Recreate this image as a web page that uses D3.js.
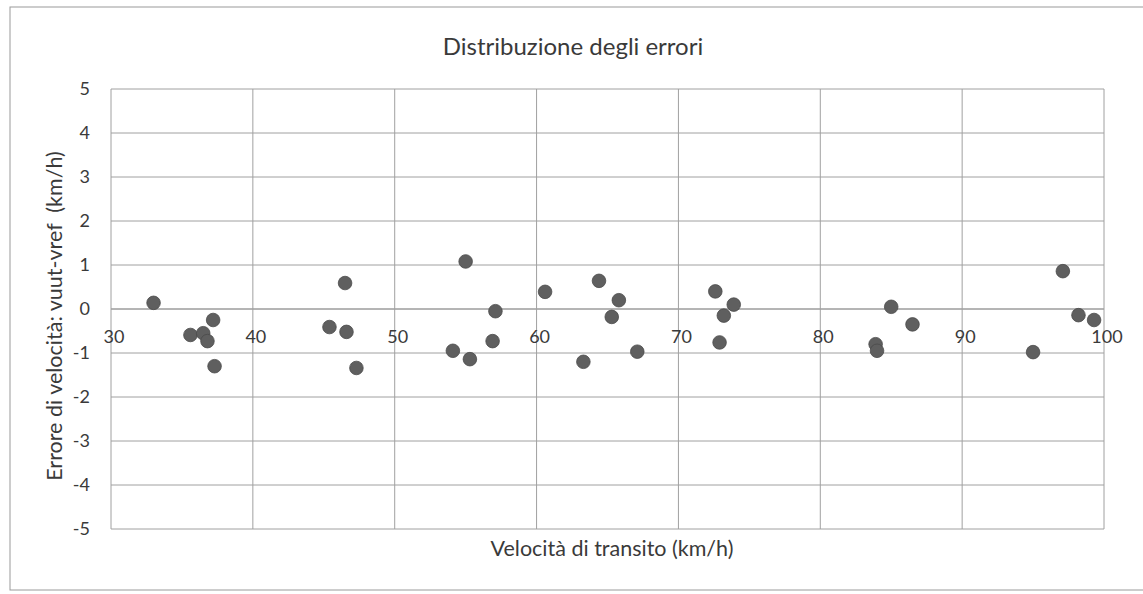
<!DOCTYPE html>
<html><head><meta charset="utf-8">
<script src="https://cdn.jsdelivr.net/npm/d3@7"></script>
<style>body{margin:0;background:#fff}svg{display:block}text{font-family:Lato,"Open Sans",sans-serif;fill:#3a3a3a;white-space:pre}</style>
</head><body><svg id="c" width="1143" height="594"></svg>
<script>
const title = "Distribuzione degli errori";
const xTitle = "Velocità di transito (km/h)";
const yTitle = "Errore di velocità: vuut-vref  (km/h)";
const xTicks = [30,40,50,60,70,80,90,100];
const yTicks = [5,4,3,2,1,0,-1,-2,-3,-4,-5];
const speed = [33.0,35.6,36.5,36.8,37.2,37.3,45.4,46.5,46.6,47.3,
  54.1,55.0,55.3,56.9,57.1,60.6,63.3,64.4,65.3,65.8,67.1,72.6,72.9,73.2,73.9,
  83.9,84.0,85.0,86.5,95.0,97.1,98.2,99.3];
const error = [0.14,-0.59,-0.55,-0.73,-0.25,-1.30,-0.41,0.59,-0.52,-1.34,
  -0.95,1.08,-1.14,-0.73,-0.05,0.39,-1.20,0.64,-0.18,0.20,-0.97,0.40,-0.76,-0.15,0.10,
  -0.80,-0.95,0.05,-0.35,-0.98,0.86,-0.14,-0.25];

const svg = d3.select("#c");
const L=111, R=1104, T=89, B=529;
const x = d3.scaleLinear().domain([30,100]).range([L,R]);
const y = d3.scaleLinear().domain([-5,5]).range([B,T]);

// outer border
svg.append("rect").attr("x",10).attr("y",7).attr("width",1150).attr("height",583)
  .attr("fill","none").attr("stroke","#9a9a9a").attr("stroke-width",1);

// gridlines
svg.append("g").selectAll("line").data(yTicks).join("line")
  .attr("x1",L).attr("x2",R).attr("y1",d=>y(d)).attr("y2",d=>y(d))
  .attr("stroke",d=>d===0?"#6a6a6a":"#a0a0a0").attr("stroke-width",1);
svg.append("g").selectAll("line").data(xTicks).join("line")
  .attr("x1",d=>x(d)).attr("x2",d=>x(d)).attr("y1",T).attr("y2",B)
  .attr("stroke","#a0a0a0").attr("stroke-width",1);

// y tick labels
svg.append("g").selectAll("text").data(yTicks).join("text")
  .attr("x",90).attr("y",d=>y(d)).attr("dy","0.35em").attr("text-anchor","end")
  .attr("font-size",18).text(d=>d);
// x tick labels near zero line
svg.append("g").selectAll("text").data(xTicks).join("text")
  .attr("x",d=>x(d)+3).attr("y",y(0)+34).attr("text-anchor","middle")
  .attr("font-size",18).text(d=>d);

// points
svg.append("g").selectAll("circle").data(speed.map((s,i)=>[s,error[i]])).join("circle")
  .attr("cx",d=>x(d[0])).attr("cy",d=>y(d[1])).attr("r",6.8)
  .attr("fill","#5f5f5f").attr("stroke","#4a4a4a").attr("stroke-width",0.8);

// titles
svg.append("text").attr("x",573).attr("y",55).attr("text-anchor","middle").attr("font-size",24).text(title);
svg.append("text").attr("x",612).attr("y",556).attr("text-anchor","middle").attr("font-size",21.5).text(xTitle);
svg.append("text").attr("transform","translate(62,316) rotate(-90)").attr("text-anchor","middle").attr("font-size",21.5).text(yTitle);
</script></body></html>
